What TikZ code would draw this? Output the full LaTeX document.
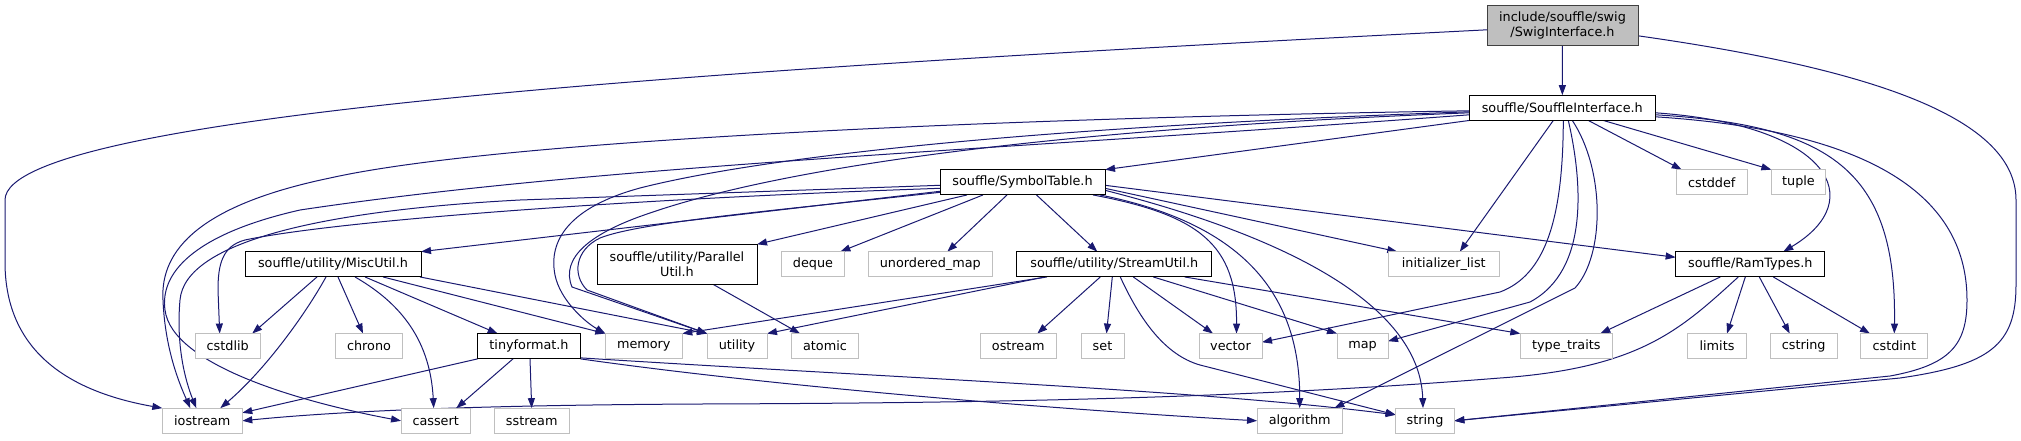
\documentclass[tikz,border=0pt]{standalone}
\usepackage{fontspec}
\setmainfont{DejaVu Sans}
\usetikzlibrary{arrows.meta,calc,backgrounds}
\definecolor{edgeblue}{HTML}{191970}
\definecolor{sysgray}{HTML}{BFBFBF}
\definecolor{rootgray}{HTML}{BFBFBF}
\definecolor{rootline}{HTML}{404040}
\tikzset{
  hdr/.style={draw=black,fill=white,line width=1pt,inner sep=0pt,outer sep=0pt,minimum height=25.3pt,align=center,font=\fontsize{12.8}{15}\selectfont},
  sys/.style={hdr,draw=sysgray},
  root/.style={hdr,draw=rootline,fill=rootgray,minimum height=40.3pt},
  dep/.style={draw=edgeblue,line width=1pt,-{Triangle[length=10pt,width=7pt]}}
}

\begin{document}
\begin{tikzpicture}[x=1pt,y=-1pt]
\path[use as bounding box] (0,0) rectangle (2021,440);
% headers
\node[root,minimum width=151pt] (swig) at (1562.5,25.8) {include/souffle/swig\\/SwigInterface.h};
\node[hdr,minimum width=186pt] (si) at (1562.3,107.8) {souffle/SouffleInterface.h};
\node[hdr,minimum width=165pt] (st) at (1022.5,182.3) {souffle/SymbolTable.h};
\node[sys,minimum width=70.7pt] (cstddef) at (1711.7,182.3) {cstddef};
\node[sys,minimum width=54.3pt] (tuple) at (1798.5,182.3) {tuple};
\node[hdr,minimum width=176pt] (misc) at (333,264.3) {souffle/utility/MiscUtil.h};
\node[hdr,minimum width=160pt,minimum height=40pt] (par) at (677,264.3) {souffle/utility/Parallel\\Util.h};
\node[sys,minimum width=62.7pt] (deque) at (813,264.3) {deque};
\node[sys,minimum width=124pt] (umap) at (930.3,264.3) {unordered\_map};
\node[hdr,minimum width=194.7pt] (stream) at (1114.3,264.3) {souffle/utility/StreamUtil.h};
\node[sys,minimum width=111pt] (initlist) at (1443.8,264.3) {initializer\_list};
\node[hdr,minimum width=149.3pt] (ram) at (1750.3,264.3) {souffle/RamTypes.h};
\node[sys,minimum width=65pt] (cstdlib) at (227.7,346.2) {cstdlib};
\node[sys,minimum width=66.7pt] (chrono) at (369,346.2) {chrono};
\node[hdr,minimum width=102.7pt] (tiny) at (529,346.2) {tinyformat.h};
\node[sys,minimum width=77pt] (memory) at (643.8,346.2) {memory};
\node[sys,minimum width=60pt] (utility) at (737,346.2) {utility};
\node[sys,minimum width=66.7pt] (atomic) at (825,346.2) {atomic};
\node[sys,minimum width=76pt] (ostream) at (1018.3,346.2) {ostream};
\node[sys,minimum width=43pt] (set) at (1102.5,346.2) {set};
\node[sys,minimum width=63pt] (vector) at (1230.5,346.2) {vector};
\node[sys,minimum width=51pt] (map) at (1362.5,346.2) {map};
\node[sys,minimum width=92pt] (typetraits) at (1566.3,346.2) {type\_traits};
\node[sys,minimum width=58.7pt] (limits) at (1717,346.2) {limits};
\node[sys,minimum width=66.7pt] (cstring) at (1803.7,346.2) {cstring};
\node[sys,minimum width=66.7pt] (cstdint) at (1894.3,346.2) {cstdint};
\node[sys,minimum width=80pt] (iostream) at (202.3,420.8) {iostream};
\node[sys,minimum width=69.3pt] (cassert) at (435.7,420.8) {cassert};
\node[sys,minimum width=74.7pt] (sstream) at (531.7,420.8) {sstream};
\node[sys,minimum width=85.3pt] (algorithm) at (1299.7,420.8) {algorithm};
\node[sys,minimum width=58.7pt] (string) at (1425,420.8) {string};

\begin{scope}[on background layer]
% swig interface
\draw[dep] (swig) -- (si);
\draw[dep] ($(swig.west)+(0,4)$) .. controls (800,65) and (5,110) .. (5,200) -- (5,262) .. controls (5,345) and (60,390) .. (iostream.north west);
\draw[dep] ($(swig.east)+(0,10)$) .. controls (1880,70) and (2016,120) .. (2016,200) -- (2016,285) .. controls (2016,345) and (1990,365) .. (1900,378) -- (string.east);
% souffle interface
\draw[dep] (si.south west) -- (st.north east);
\draw[dep] ($(si.west)+(0,3)$) .. controls (1000,118) and (500,140) .. (330,178) .. controls (200,205) and (160,250) .. (163,300) .. controls (165,350) and (180,385) .. ($(iostream.north)+(-12,0)$);
\draw[dep] ($(si.west)+(0,7)$) .. controls (1000,150) and (600,165) .. (300,210) .. controls (190,235) and (160,275) .. (165,310) .. controls (172,365) and (300,402) .. (cassert.west);
\draw[dep] ($(si.west)+(0,4)$) .. controls (1000,128) and (750,160) .. (640,188) .. controls (570,207) and (548,240) .. (555,275) .. controls (560,300) and (585,322) .. (memory.north west);
\draw[dep] ($(si.west)+(0,5)$) .. controls (1000,131) and (760,175) .. (650,213) .. controls (590,233) and (560,258) .. (572,287) -- (utility.north west);
\draw[dep] ($(si.south)+(-9,0)$) -- ($(initlist.north)+(16,0)$);
\draw[dep] ($(si.south)+(1,0)$) .. controls (1563,220) and (1545,275) .. (1500,292) -- ($(vector.east)+(0,-4)$);
\draw[dep] ($(si.south)+(6,0)$) .. controls (1582,180) and (1590,270) .. (1530,302) -- ($(map.east)+(0,-5)$);
\draw[dep] ($(si.south)+(10,0)$) .. controls (1605,170) and (1605,255) .. (1575,288) -- ($(algorithm.north east)+(-8,0)$);
\draw[dep] ($(si.south)+(26,0)$) -- ($(cstddef.north)+(-30,0)$);
\draw[dep] ($(si.south)+(41,0)$) -- (tuple.north west);
\draw[dep] ($(si.east)+(0,5)$) .. controls (1830,125) and (1870,200) .. ($(ram.north)+(33,0)$);
\draw[dep] ($(si.east)+(0,7)$) .. controls (1830,125) and (1897,170) .. (cstdint.north);
\draw[dep] ($(si.east)+(0,9)$) .. controls (1860,130) and (1967,190) .. (1967,300) .. controls (1967,345) and (1950,365) .. (1890,376) -- (string.east);
% symbol table
\draw[dep] ($(st.west)+(0,3)$) -- (520,200) .. controls (330,210) and (185,240) .. (180,300) .. controls (176,345) and (185,380) .. ($(iostream.north)+(-6,0)$);
\draw[dep] ($(st.west)+(0,6)$) .. controls (600,200) and (330,222) .. (245,240) .. controls (222,246) and (218,265) .. (218,290) -- ($(cstdlib.north)+(-8,0)$);
\draw[dep] ($(st.west)+(0,9)$) -- (misc.north east);
\draw[dep] ($(st.west)+(0,10)$) .. controls (780,210) and (640,222) .. (600,238) .. controls (575,250) and (572,275) .. (587,290) -- (utility.north west);
\draw[dep] ($(st.south west)+(27,0)$) -- (par.north east);
\draw[dep] ($(st.south west)+(43,0)$) -- ($(deque.north east)+(-4,0)$);
\draw[dep] ($(st.south west)+(67,0)$) -- ($(umap.north)+(17,0)$);
\draw[dep] ($(st.south)+(14,0)$) -- ($(stream.north)+(-17,0)$);
\draw[dep] ($(st.south east)+(-12,0)$) .. controls (1200,215) and (1237,245) .. ($(vector.north)+(6,0)$);
\draw[dep] ($(st.south east)+(-5,0)$) .. controls (1250,225) and (1300,300) .. (algorithm.north);
\draw[dep] ($(st.east)+(0,8)$) .. controls (1300,240) and (1420,310) .. ($(string.north)+(-2,0)$);
\draw[dep] ($(st.east)+(0,6)$) -- ($(initlist.north west)+(9,0)$);
\draw[dep] ($(st.east)+(0,3)$) -- ($(ram.west)+(0,-7)$);
% misc util
\draw[dep] ($(misc.south)+(-16,0)$) -- ($(cstdlib.north east)+(-8,0)$);
\draw[dep] ($(misc.south)+(-7,0)$) .. controls (305,315) and (265,370) .. ($(iostream.north east)+(-22,0)$);
\draw[dep] ($(misc.south)+(5,0)$) -- ($(chrono.north)+(-6,0)$);
\draw[dep] ($(misc.south)+(22,0)$) .. controls (395,300) and (430,335) .. ($(cassert.north)+(-2,0)$);
\draw[dep] ($(misc.south)+(32,0)$) -- ($(tiny.north west)+(20,0)$);
\draw[dep] ($(misc.south)+(50,0)$) -- (memory.north west);
\draw[dep] ($(misc.south east)+(-1,0)$) -- (utility.north west);
% parallel util
\draw[dep] ($(par.south)+(36,0)$) -- ($(atomic.north)+(-25,0)$);
% stream util
\draw[dep] ($(stream.south west)+(30,0)$) -- (memory.north east);
\draw[dep] ($(stream.south west)+(28,0)$) -- (utility.north east);
\draw[dep] ($(stream.south)+(-14,0)$) -- ($(ostream.north)+(19,0)$);
\draw[dep] ($(stream.south)+(-2,0)$) -- ($(set.north)+(4,0)$);
\draw[dep] ($(stream.south)+(6,0)$) .. controls (1140,320) and (1165,355) .. (1200,365) -- ($(string.west)+(0,-6)$);
\draw[dep] ($(stream.south)+(19,0)$) -- ($(vector.north west)+(14,0)$);
\draw[dep] ($(stream.south)+(39,0)$) -- (map.north west);
\draw[dep] ($(stream.south east)+(-27,0)$) -- (typetraits.north west);
% tinyformat
\draw[dep] (tiny.south west) -- ($(iostream.east)+(0,-8)$);
\draw[dep] ($(tiny.south)+(-16,0)$) -- ($(cassert.north east)+(-14,0)$);
\draw[dep] ($(tiny.south)+(1,0)$) -- (sstream.north);
\draw[dep] ($(tiny.south east)+(0,-1)$) .. controls (900,378) and (1200,390) .. ($(string.west)+(0,-6)$);
\draw[dep] (tiny.south east) .. controls (800,390) and (1100,412) .. (algorithm.west);
% ram types
\draw[dep] ($(ram.south)+(-12,0)$) .. controls (1680,330) and (1640,368) .. (1500,378) .. controls (1250,398) and (1000,403) .. (700,404) .. controls (500,405) and (350,410) .. (iostream.east);
\draw[dep] ($(ram.south)+(-30,0)$) -- ($(typetraits.north)+(34,0)$);
\draw[dep] ($(ram.south)+(-5,0)$) -- ($(limits.north)+(10,0)$);
\draw[dep] ($(ram.south)+(9,0)$) -- ($(cstring.north)+(-14,0)$);
\draw[dep] ($(ram.south)+(23,0)$) -- ($(cstdint.north west)+(9,0)$);
\end{scope}
\end{tikzpicture}
\end{document}
